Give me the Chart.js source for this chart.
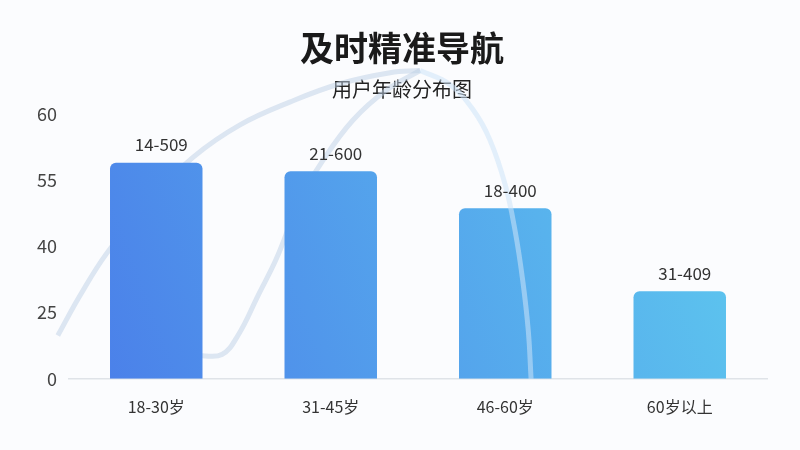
<!DOCTYPE html>
<html>
<head>
<meta charset="utf-8">
<script src="https://cdn.jsdelivr.net/npm/chart.js@4/dist/chart.umd.min.js"></script>
<style>
  html, body { margin: 0; padding: 0; background: #fbfcfe; }
  #wrap { width: 800px; height: 450px; position: relative; }
</style>
</head>
<body>
<div id="wrap"><canvas id="ageChart"></canvas></div>
<script>
  // categories / values
  var CATEGORIES = ["18-30岁", "31-45岁", "46-60岁", "60岁以上"];
  var VALUES = [48.9, 47.0, 38.6, 19.8];
  var BAR_LABELS = ["14-509", "21-600", "18-400", "31-409"];
  var TICK_LABELS = ["0", "25", "40", "55", "60"];

  // faint decorative curves behind the bars (x on a hidden 0-100 axis)
  var CURVE_UP_X = [-1.6, 1.6, 5.4, 11.6, 17.8, 24.5, 31.7, 38.8, 46.0, 50.3];
  var CURVE_UP_Y = [9.8, 18.9, 28.4, 40.5, 50.2, 57.5, 62.7, 66.8, 69.3, 69.8];
  var CURVE_DOWN_X = [50.3, 54.6, 57.9, 60.3, 62.5, 63.9, 65.0, 65.8, 66.2];
  var CURVE_DOWN_Y = [69.8, 66.6, 60.9, 54.1, 43.9, 33.6, 22.3, 10.9, 0];
  var CURVE_B_X = [18.8, 21.9, 24.2, 27.1, 29.8, 33.1, 36.4, 40.7, 45.6, 50.3];
  var CURVE_B_Y = [5.2, 5.5, 9.8, 18.9, 27.5, 40.5, 49.5, 58.6, 65.5, 69.8];

  var FONT = "'Noto Sans CJK SC', 'Noto Sans', sans-serif";

  function pts(xs, ys) {
    return xs.map(function (x, i) { return { x: x, y: ys[i] }; });
  }

  function barFill(ctx) {
    var area = ctx.chart.chartArea;
    if (!area) return "#4f8fee";
    var g = ctx.chart.ctx.createLinearGradient(area.left, area.bottom, area.right, area.top);
    g.addColorStop(0, "#4a7de9");
    g.addColorStop(1, "#5fcdef");
    return g;
  }

  function curve(data, color, order) {
    return {
      type: "line", xAxisID: "xc", data: data, order: order,
      borderColor: color, borderWidth: 5, pointRadius: 0, tension: 0.4,
      fill: false, clip: false
    };
  }

  var barLabels = {
    id: "barLabels",
    afterDatasetsDraw: function (chart) {
      var c = chart.ctx;
      var meta = chart.getDatasetMeta(1);
      c.save();
      c.font = "17px " + FONT;
      c.fillStyle = "#333";
      c.textAlign = "center";
      c.textBaseline = "middle";
      meta.data.forEach(function (el, i) {
        c.fillText(BAR_LABELS[i], el.x + 5, el.y - 18);
      });
      c.restore();
    }
  };

  new Chart(document.getElementById("ageChart"), {
    type: "bar",
    data: {
      labels: CATEGORIES,
      datasets: [
        curve(pts(CURVE_DOWN_X, CURVE_DOWN_Y), "rgba(205,228,248,0.55)", 0),
        {
          type: "bar", data: VALUES, order: 1, grouped: false,
          backgroundColor: barFill,
          borderRadius: { topLeft: 6, topRight: 6 }, borderSkipped: "bottom",
          barPercentage: 0.53, categoryPercentage: 1
        },
        curve(pts(CURVE_UP_X, CURVE_UP_Y), "rgba(190,208,230,0.5)", 2),
        curve(pts(CURVE_B_X, CURVE_B_Y), "rgba(190,208,230,0.5)", 2)
      ]
    },
    options: {
      responsive: true,
      maintainAspectRatio: false,
      animation: false,
      layout: { padding: { left: 37, right: 33, top: 0, bottom: 14 } },
      plugins: {
        legend: { display: false },
        tooltip: { enabled: false },
        title: {
          display: true, text: "及时精准导航", color: "#1a1a1a",
          font: { family: FONT, size: 34, weight: "bold" },
          padding: { top: 28, bottom: 9 }
        },
        subtitle: {
          display: true, text: "用户年龄分布图", color: "#222",
          font: { family: FONT, size: 20 },
          padding: { top: 0, bottom: 12 }
        }
      },
      scales: {
        x: {
          type: "category",
          grid: { display: false, drawTicks: false },
          border: { display: true, color: "#dfe3e8", width: 1.5 },
          ticks: { color: "#333", font: { family: FONT, size: 16 }, padding: 19 }
        },
        xc: { type: "linear", display: false, offset: false, min: 0, max: 100 },
        y: {
          min: 0, max: 60,
          grid: { display: false, drawTicks: false },
          border: { display: false },
          afterFit: function (s) { s.width = 32; },
          ticks: {
            stepSize: 15, color: "#444", padding: 12,
            font: { family: FONT, size: 18 },
            callback: function (v) { return TICK_LABELS[Math.round(v / 15)]; }
          }
        }
      }
    },
    plugins: [barLabels]
  });
</script>
</body>
</html>
